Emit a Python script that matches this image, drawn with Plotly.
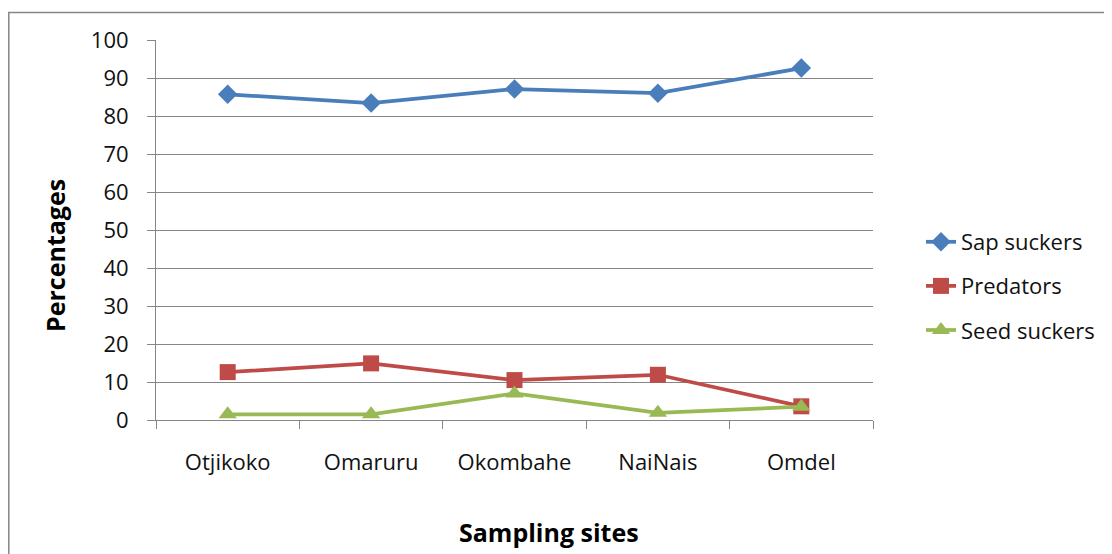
import plotly.graph_objects as go

sites = ["Otjikoko", "Omaruru", "Okombahe", "NaiNais", "Omdel"]
sap_suckers = [85.7, 83.4, 87.1, 86.0, 92.6]
predators = [12.6, 14.9, 10.5, 11.9, 3.6]
seed_suckers = [1.5, 1.5, 7.0, 1.9, 3.5]
y_ticks = [0, 10, 20, 30, 40, 50, 60, 70, 80, 90, 100]

FONT = "Open Sans, Carlito, Calibri, sans-serif"
W, H = 1112, 554
OFF = 8  # browser body margin
L, R, T, B = 156 - OFF, 873 - OFF, 40 - OFF, 420 - OFF

fig = go.Figure()
series = [
    ("Sap suckers", sap_suckers, "#4A7EBB", "diamond", 15),
    ("Predators", predators, "#BE4B48", "square", 16),
    ("Seed suckers", seed_suckers, "#98B954", "triangle-up", 16),
]
for i, (name, vals, col, sym, sz) in enumerate(series):
    fig.add_trace(go.Scatter(
        x=sites, y=vals, name=name, mode="lines+markers",
        line=dict(color=col, width=3.75),
        marker=dict(symbol=sym, size=sz, color=col),
        legendgroup=str(i),
    ))

pw = R - L
ph = B - T

def px(x):
    return (x - OFF - L) / pw

def py(y):
    return (B - (y - OFF)) / ph

fig.update_layout(
    width=W, height=H,
    margin=dict(l=L, r=W - R, t=T, b=H - B, autoexpand=False),
    paper_bgcolor="white", plot_bgcolor="white",
    font=dict(family=FONT, size=22, color="#111111"),
    showlegend=True,
    legend=dict(
        x=px(921), y=py(221), xanchor="left", yanchor="top",
        font=dict(family=FONT, size=22, color="#111111"),
        traceorder="grouped", tracegroupgap=12.5,
        bgcolor="rgba(0,0,0,0)", itemwidth=30,
    ),
    xaxis=dict(
        type="category", range=[-0.5, 4.5], tickson="boundaries",
        ticks="outside", ticklen=8, tickcolor="#868686", tickwidth=1,
        showline=True, linecolor="#868686", linewidth=1,
        showgrid=False, zeroline=False,
        tickfont=dict(family=FONT, size=22, color="#111111"),
        ticklabelstandoff=23,
        fixedrange=True,
    ),
    yaxis=dict(
        range=[0, 100], tickvals=y_ticks,
        ticks="outside", ticklen=8, tickcolor="#868686", tickwidth=1,
        showline=True, linecolor="#868686", linewidth=1,
        showgrid=True, gridcolor="#868686", gridwidth=1,
        zeroline=False,
        tickfont=dict(family=FONT, size=22, color="#111111"),
        ticklabelstandoff=14,
        fixedrange=True,
    ),
    annotations=[
        dict(text="<b>Percentages</b>", xref="paper", yref="paper",
             x=px(55), y=py(256), xanchor="center", yanchor="middle",
             textangle=-90, showarrow=False,
             font=dict(family=FONT, size=25, color="#000000")),
        dict(text="<b>Sampling sites</b>", xref="paper", yref="paper",
             x=px(549), y=py(532), xanchor="center", yanchor="middle",
             showarrow=False,
             font=dict(family=FONT, size=25, color="#000000")),
    ],
    shapes=[
        dict(type="rect", xref="paper", yref="paper",
             x0=px(OFF + 0.8), x1=px(W + 20),
             y0=py(H + 20), y1=py(12.5),
             line=dict(color="#868686", width=1.5), fillcolor="rgba(0,0,0,0)",
             layer="below"),
    ],
)

fig.write_html("out.html")
